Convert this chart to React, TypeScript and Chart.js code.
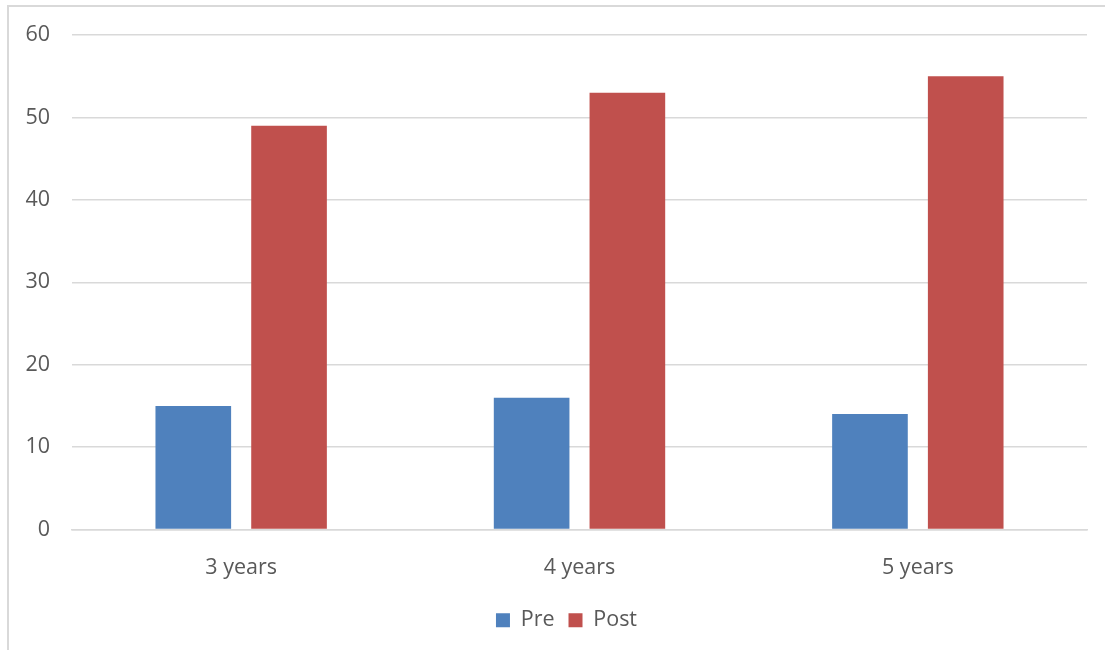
import React, { useEffect, useRef } from "react";
import { Chart, registerables } from "chart.js";

Chart.register(...registerables);

const categories = ["3 years", "4 years", "5 years"];
const preValues = [15, 16, 14];
const postValues = [49, 53, 55];
const yTicks = [0, 10, 20, 30, 40, 50, 60];

const legendShift = {
  id: "legendShift",
  afterLayout(chart: any) {
    if (chart.legend) {
      chart.legend.left += 23;
      chart.legend.right += 23;
    }
  },
};

export default function App() {
  const ref = useRef<HTMLCanvasElement | null>(null);
  useEffect(() => {
    if (!ref.current) return;
    const font = { family: "'Open Sans', 'Liberation Sans', sans-serif", size: 21.5 };
    const chart = new Chart(ref.current, {
      type: "bar",
      data: {
        labels: categories,
        datasets: [
          { label: "Pre", data: preValues, backgroundColor: "#4f81bd", categoryPercentage: 0.566, barPercentage: 0.79 },
          { label: "Post", data: postValues, backgroundColor: "#c0504d", categoryPercentage: 0.566, barPercentage: 0.79 },
        ],
      },
      plugins: [legendShift],
      options: {
        animation: false,
        responsive: false,
        layout: { padding: { top: 35, right: 18, bottom: 9, left: 0 } },
        plugins: {
          legend: {
            position: "bottom",
            labels: { boxWidth: 14, boxHeight: 14, font, color: "#595959", padding: 14 },
          },
          tooltip: { enabled: false },
        },
        scales: {
          x: {
            afterFit: (s: any) => { s.height = 66; },
            grid: { display: false, drawTicks: false },
            border: { color: "#d9d9d9", width: 1.5 },
            ticks: { font, color: "#595959", padding: 25 },
          },
          y: {
            min: 0,
            max: 60,
            afterFit: (s: any) => { s.width = 72; },
            afterBuildTicks: (s: any) => { s.ticks = yTicks.map((v) => ({ value: v })); },
            grid: { color: "#d9d9d9", lineWidth: 1.5, drawTicks: false },
            border: { display: false },
            ticks: { font, color: "#595959", padding: 22, stepSize: 10 },
          },
        },
      },
    });
    return () => chart.destroy();
  }, []);
  return (
    <div style={{ position: "absolute", left: 0, top: 0, width: 1105, height: 650, overflow: "hidden", background: "#fff" }}>
      <div style={{ position: "absolute", left: 7, top: 5, width: 1200, height: 800, borderTop: "2px solid #d9d9d9", borderLeft: "2px solid #d9d9d9" }} />
      <canvas ref={ref} width={1105} height={650} style={{ position: "absolute", left: 0, top: 0 }} />
    </div>
  );
}
